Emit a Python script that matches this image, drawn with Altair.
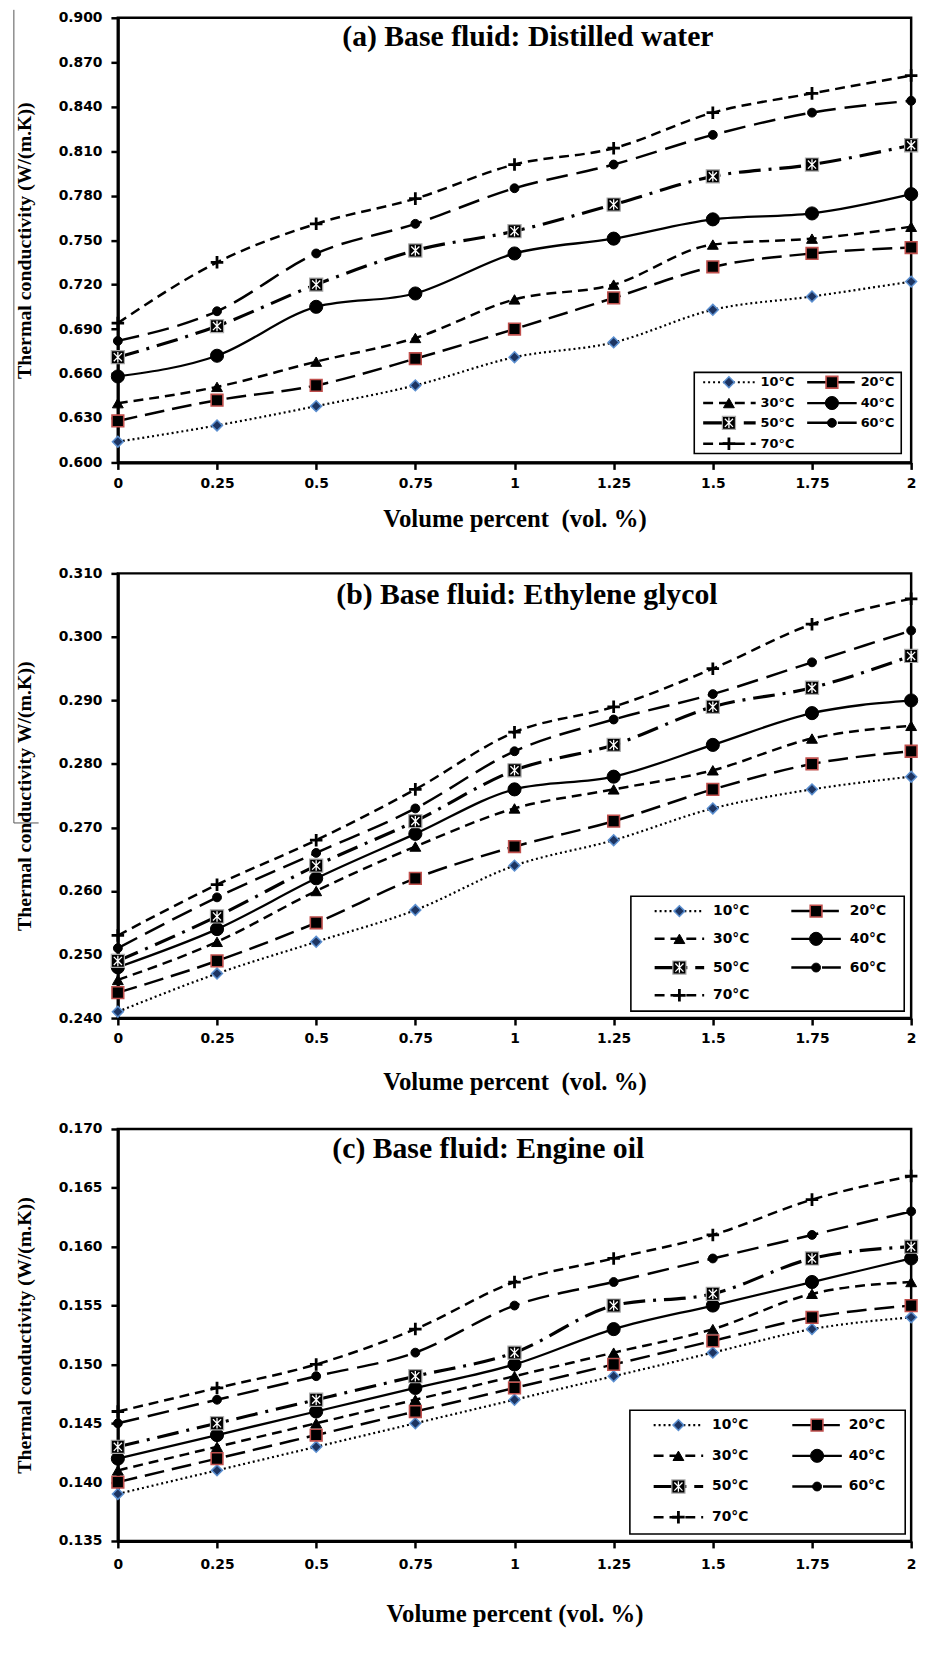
import altair as alt
import pandas as pd

# ---------------- data ----------------
vol = [0, 0.25, 0.5, 0.75, 1, 1.25, 1.5, 1.75, 2]
temps = ["10°C", "20°C", "30°C", "40°C", "50°C", "60°C", "70°C"]

# (a) distilled water
dw_10 = [0.614, 0.625, 0.638, 0.652, 0.671, 0.681, 0.703, 0.712, 0.722]
dw_20 = [0.628, 0.642, 0.652, 0.670, 0.690, 0.711, 0.732, 0.741, 0.745]
dw_30 = [0.640, 0.651, 0.668, 0.684, 0.710, 0.720, 0.747, 0.751, 0.759]
dw_40 = [0.658, 0.672, 0.705, 0.714, 0.741, 0.751, 0.764, 0.768, 0.781]
dw_50 = [0.671, 0.692, 0.720, 0.743, 0.756, 0.774, 0.793, 0.801, 0.814]
dw_60 = [0.682, 0.702, 0.741, 0.761, 0.785, 0.801, 0.821, 0.836, 0.844]
dw_70 = [0.694, 0.735, 0.761, 0.778, 0.801, 0.812, 0.836, 0.849, 0.861]

# (b) ethylene glycol
eg_10 = [0.241, 0.247, 0.252, 0.257, 0.264, 0.268, 0.273, 0.276, 0.278]
eg_20 = [0.244, 0.249, 0.255, 0.262, 0.267, 0.271, 0.276, 0.280, 0.282]
eg_30 = [0.246, 0.252, 0.260, 0.267, 0.273, 0.276, 0.279, 0.284, 0.286]
eg_40 = [0.248, 0.254, 0.262, 0.269, 0.276, 0.278, 0.283, 0.288, 0.290]
eg_50 = [0.249, 0.256, 0.264, 0.271, 0.279, 0.283, 0.289, 0.292, 0.297]
eg_60 = [0.251, 0.259, 0.266, 0.273, 0.282, 0.287, 0.291, 0.296, 0.301]
eg_70 = [0.253, 0.261, 0.268, 0.276, 0.285, 0.289, 0.295, 0.302, 0.306]

# (c) engine oil
eo_10 = [0.139, 0.141, 0.143, 0.145, 0.147, 0.149, 0.151, 0.153, 0.154]
eo_20 = [0.140, 0.142, 0.144, 0.146, 0.148, 0.150, 0.152, 0.154, 0.155]
eo_30 = [0.141, 0.143, 0.145, 0.147, 0.149, 0.151, 0.153, 0.156, 0.157]
eo_40 = [0.142, 0.144, 0.146, 0.148, 0.150, 0.153, 0.155, 0.157, 0.159]
eo_50 = [0.143, 0.145, 0.147, 0.149, 0.151, 0.155, 0.156, 0.159, 0.160]
eo_60 = [0.145, 0.147, 0.149, 0.151, 0.155, 0.157, 0.159, 0.161, 0.163]
eo_70 = [0.146, 0.148, 0.150, 0.153, 0.157, 0.159, 0.161, 0.164, 0.166]

yticks_a = [0.600, 0.630, 0.660, 0.690, 0.720, 0.750, 0.780, 0.810, 0.840, 0.870, 0.900]
yticks_b = [0.240, 0.250, 0.260, 0.270, 0.280, 0.290, 0.300, 0.310]
yticks_c = [0.135, 0.140, 0.145, 0.150, 0.155, 0.160, 0.165, 0.170]

# ---------------- styles ----------------
PLUS = "M-1,0L1,0M0,-1L0,1"
STAR = "M-0.62,-0.62L0.62,0.62M-0.62,0.62L0.62,-0.62M0,-0.8L0,0.8"
STYLE = {
    "10°C": dict(dash=[2, 3], lw=2.2, shape="diamond", size=120, fill="#1d3461", stroke="#5b8fd0", sw=1.5),
    "20°C": dict(dash=[20, 8], lw=2.5, shape="square", size=140, fill="black", stroke="#c0504d", sw=1.6),
    "30°C": dict(dash=[10, 6], lw=2.5, shape="triangle-up", size=120, fill="black", stroke="black", sw=1),
    "40°C": dict(dash=None, lw=2.3, shape="circle", size=175, fill="black", stroke="black", sw=1),
    "50°C": dict(dash=[22, 8, 3, 8], lw=3.2, shape="square", size=175, fill="black", stroke="#aaaaaa", sw=1.2, star=True),
    "60°C": dict(dash=[22, 9], lw=2.5, shape="circle", size=80, fill="black", stroke="black", sw=1),
    "70°C": dict(dash=[10, 6], lw=2.5, shape=PLUS, size=160, fill=None, stroke="black", sw=2.8),
}

SERIF = "Liberation Serif"
SANS = "DejaVu Sans"


def point_marks(st, base, enc):
    out = []
    if st["fill"] is None:
        out.append(base.mark_point(shape=st["shape"], size=st["size"], filled=False,
                                   stroke=st["stroke"], strokeWidth=st["sw"], opacity=1).encode(**enc))
    else:
        out.append(base.mark_point(shape=st["shape"], size=st["size"], filled=True, fill=st["fill"],
                                   stroke=st["stroke"], strokeWidth=st["sw"], opacity=1).encode(**enc))
    if st.get("star"):
        out.append(base.mark_point(shape=STAR, size=st["size"], filled=False, stroke="white",
                                   strokeWidth=1.3, opacity=1).encode(**enc))
    return out


def line_mark(st, base, enc):
    kw = dict(color="black", strokeWidth=st["lw"], interpolate="monotone")
    if st["dash"]:
        kw["strokeDash"] = st["dash"]
    return base.mark_line(**kw).encode(**enc)


def panel(series_vals, ydom, yticks, ytitle, xtitle, heading, head_xy, h, xtitle_pad, leg,
          border=False, xlabel_pad=7):
    rows = []
    for name, vals in zip(temps, series_vals):
        for v, k in zip(vol, vals):
            rows.append({"vol": v, "k": k, "series": name})
    df = pd.DataFrame(rows)

    xs = alt.X("vol:Q", scale=alt.Scale(domain=[0, 2], nice=False),
               axis=alt.Axis(values=vol, format=".3~g", title=xtitle, titlePadding=xtitle_pad,
                             labelPadding=xlabel_pad, titleFontSize=25, labelFlush=False))
    ys = alt.Y("k:Q", scale=alt.Scale(domain=ydom, nice=False, zero=False),
               axis=alt.Axis(values=yticks, format=".3f", title=ytitle, titlePadding=24,
                             labelPadding=9, titleFontSize=20, labelFlush=False))
    enc = dict(x=xs, y=ys)

    layers = []
    for name in temps:
        st = STYLE[name]
        base = alt.Chart(df).transform_filter(alt.datum.series == name)
        layers.append(line_mark(st, base, enc))
        layers.extend(point_marks(st, base, enc))

    # heading inside the plot
    layers.append(
        alt.Chart(pd.DataFrame({"t": [heading]})).mark_text(
            font=SERIF, fontWeight="bold", fontSize=30, align="center", baseline="middle", color="black"
        ).encode(x=alt.value(head_xy[0]), y=alt.value(head_xy[1]), text="t:N")
    )

    # legend box
    bx0, bx1, by0, by1 = leg["box"]
    layers.append(
        alt.Chart(pd.DataFrame({"a": [1]})).mark_rect(fill="white", stroke="black", strokeWidth=1.6).encode(
            x=alt.value(bx0), x2=alt.value(bx1), y=alt.value(by0), y2=alt.value(by1))
    )
    for i, name in enumerate(temps):
        st = STYLE[name]
        col, row = i % 2, i // 2
        sx0, sx1, mx, lx = leg["cols"][col]
        yy = leg["rows"][row]
        one = alt.Chart(pd.DataFrame({"label": [name]}))
        seg = dict(color="black", strokeWidth=st["lw"])
        if st["dash"]:
            seg["strokeDash"] = st["dash"]
        layers.append(one.mark_rule(**seg).encode(
            x=alt.value(sx0), x2=alt.value(sx1), y=alt.value(yy)))
        layers.extend(point_marks(st, one, dict(x=alt.value(mx), y=alt.value(yy))))
        layers.append(one.mark_text(font=SANS, fontWeight="bold", fontSize=leg["fs"], align="left",
                                    baseline="middle", color="black").encode(
            x=alt.value(lx), y=alt.value(yy), text="label:N"))

    if border:
        # thin page-border line at the far left of the scanned figure
        one = alt.Chart(pd.DataFrame({"a": [1]}))
        layers.append(one.mark_rule(color="#555555", strokeWidth=1).encode(
            x=alt.value(-105), y=alt.value(-8), y2=alt.value(813)))
        layers.append(one.mark_rule(color="#555555", strokeWidth=1).encode(
            x=alt.value(-105), x2=alt.value(-80), y=alt.value(813)))

    return alt.layer(*layers).properties(width=801, height=h)


leg_a = dict(box=(582, 791, 358, 440), rows=[368, 389, 409, 430],
             cols=[(591, 644, 617, 649), (696, 746, 721, 750)], fs=13)
leg_b = dict(box=(518, 794, 326, 442), rows=[341, 369, 398, 426],
             cols=[(542, 592, 567, 601), (680, 730, 705, 739)], fs=14)
leg_c = dict(box=(517, 795, 284, 409), rows=[299, 330, 361, 392],
             cols=[(541, 591, 566, 600), (681, 731, 706, 738)], fs=14)

pa = panel([dw_10, dw_20, dw_30, dw_40, dw_50, dw_60, dw_70], [0.6, 0.9], yticks_a,
           "Thermal conductivity (W/(m.K))", "Volume percent \u00a0(vol. %)",
           "(a) Base fluid: Distilled water", (414, 19), 449, 17, leg_a, border=True)
pb = panel([eg_10, eg_20, eg_30, eg_40, eg_50, eg_60, eg_70], [0.24, 0.31], yticks_b,
           "Thermal conductivity W/(m.K))", "Volume percent \u00a0(vol. %)",
           "(b) Base fluid: Ethylene glycol", (413, 22), 449, 24, leg_b)
pc = panel([eo_10, eo_20, eo_30, eo_40, eo_50, eo_60, eo_70], [0.135, 0.17], yticks_c,
           "Thermal conductivity (W/(m.K))", "Volume percent (vol. %)",
           "(c) Base fluid: Engine oil", (374, 20), 416, 30, leg_c, xlabel_pad=10)

chart = alt.vconcat(pa, pb, pc, spacing=112, bounds="flush").properties(
    padding={"left": 12, "top": 0, "right": 2, "bottom": 2}
).configure_view(
    stroke="black", strokeWidth=2.5
).configure_axis(
    grid=False, domainColor="black", domainWidth=3, tickColor="black", tickWidth=2.5, tickSize=7,
    labelFont=SANS, labelFontWeight="bold", labelFontSize=14, labelColor="black",
    titleFont=SERIF, titleFontWeight="bold", titleColor="black", labelOverlap=False
)

chart.save("out.html", embed_options={"renderer": "svg", "actions": False})
